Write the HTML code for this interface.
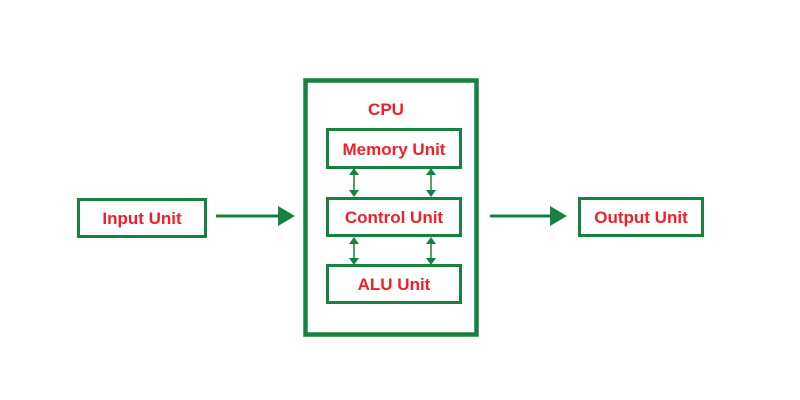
<!DOCTYPE html>
<html><head><style>body{margin:0;background:#fff}</style></head><body>
<svg width="800" height="400" xmlns="http://www.w3.org/2000/svg" style="display:block">
<defs>
<marker id="a" markerWidth="8" markerHeight="8" refX="7" refY="4" orient="auto" markerUnits="userSpaceOnUse"><path d="M0,0 L8,4 L0,8 z" fill="#17813f"/></marker>
</defs>
<g fill="none" stroke="#17813f">
<rect x="305.5" y="80.5" width="171" height="254" stroke-width="4.5"/>
<rect x="327.5" y="129.5" width="133" height="38" stroke-width="3"/>
<rect x="327.5" y="198.5" width="133" height="37" stroke-width="3"/>
<rect x="327.5" y="265.5" width="133" height="37" stroke-width="3"/>
<rect x="78.5" y="199.5" width="127" height="37" stroke-width="3"/>
<rect x="579.5" y="198.5" width="123" height="37" stroke-width="3"/>
<path d="M216,216 H280" stroke-width="3"/>
<path d="M490,216 H552" stroke-width="3"/>
<g stroke-width="1.5">
<path d="M354,173 V191 M431,173 V191 M354,241 V258 M431,241 V258"/>
</g>
</g>
<g fill="#17813f">
<path d="M278,206 L295,216 L278,226 z"/>
<path d="M550,206 L567,216 L550,226 z"/>
<path d="M349,175 L354,168 L359,175 z M349,190 L354,197 L359,190 z"/>
<path d="M426,175 L431,168 L436,175 z M426,190 L431,197 L436,190 z"/>
<path d="M349,244 L354,237 L359,244 z M349,258 L354,265 L359,258 z"/>
<path d="M426,244 L431,237 L436,244 z M426,258 L431,265 L436,258 z"/>
</g>
<g font-family="Liberation Sans, sans-serif" font-weight="bold" font-size="17" fill="#f0202a" text-anchor="middle">
<text x="386" y="115">CPU</text>
<text x="394" y="155">Memory Unit</text>
<text x="394" y="223">Control Unit</text>
<text x="394" y="290">ALU Unit</text>
<text x="142" y="224">Input Unit</text>
<text x="641" y="223">Output Unit</text>
</g>
</svg>
</body></html>
